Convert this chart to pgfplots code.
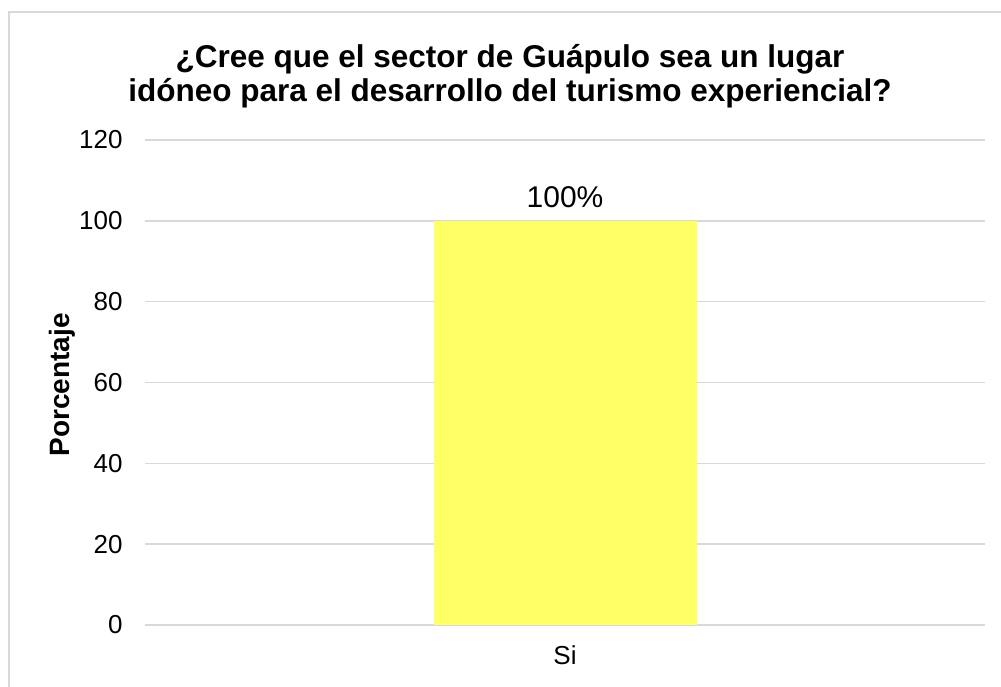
\documentclass[border=0pt]{standalone}
\usepackage{pgfplots}
\pgfplotsset{compat=1.18}
\usepackage{fontspec}
\setmainfont{Liberation Sans}
\definecolor{gridc}{HTML}{D9D9D9}
\definecolor{barc}{HTML}{FFFF66}
\begin{document}
\begin{tikzpicture}
\path[use as bounding box] (0,0) rectangle (500.5pt,343pt);
\begin{scope}
\clip (0,0) rectangle (500.5pt,343pt);
\draw[gridc, line width=1pt] (4.5pt,-5pt) -- (4.5pt,337pt) -- (510pt,337pt);
\end{scope}
\begin{axis}[at={(72.5pt,30.5pt)}, anchor=south west, scale only axis,
  width=420pt, height=242.5pt,
  ymin=0, ymax=120, ytick={0,20,...,120},
  xmin=-0.5, xmax=0.5, xtick={0}, xticklabels={Si},
  axis line style={draw=none}, tick style={draw=none},
  ymajorgrids, grid style={gridc, line width=0.75pt},
  /pgf/number format/assume math mode=true,
  ticklabel style={font=\fontsize{13pt}{15pt}\selectfont},
  yticklabel style={xshift=-7.67pt},
  xticklabel style={yshift=-6.77pt},
  nodes near coords={\pgfmathprintnumber{\pgfplotspointmeta}\%},
  nodes near coords style={font=\fontsize{15pt}{17pt}\selectfont, yshift=3.1pt},
  clip=false
]
\addplot[ybar, bar width=131.5pt, fill=barc, draw=none] coordinates {(0,100)};
\end{axis}
\node[font=\bfseries\fontsize{15.75pt}{16.75pt}\selectfont, align=center] at (255pt,305pt)
  {¿Cree que el sector de Guápulo sea un lugar\\idóneo para el desarrollo del turismo experiencial?};
\node[font=\bfseries\fontsize{14pt}{16pt}\selectfont, rotate=90] at (31pt,150.5pt) {Porcentaje};
\end{tikzpicture}
\end{document}
